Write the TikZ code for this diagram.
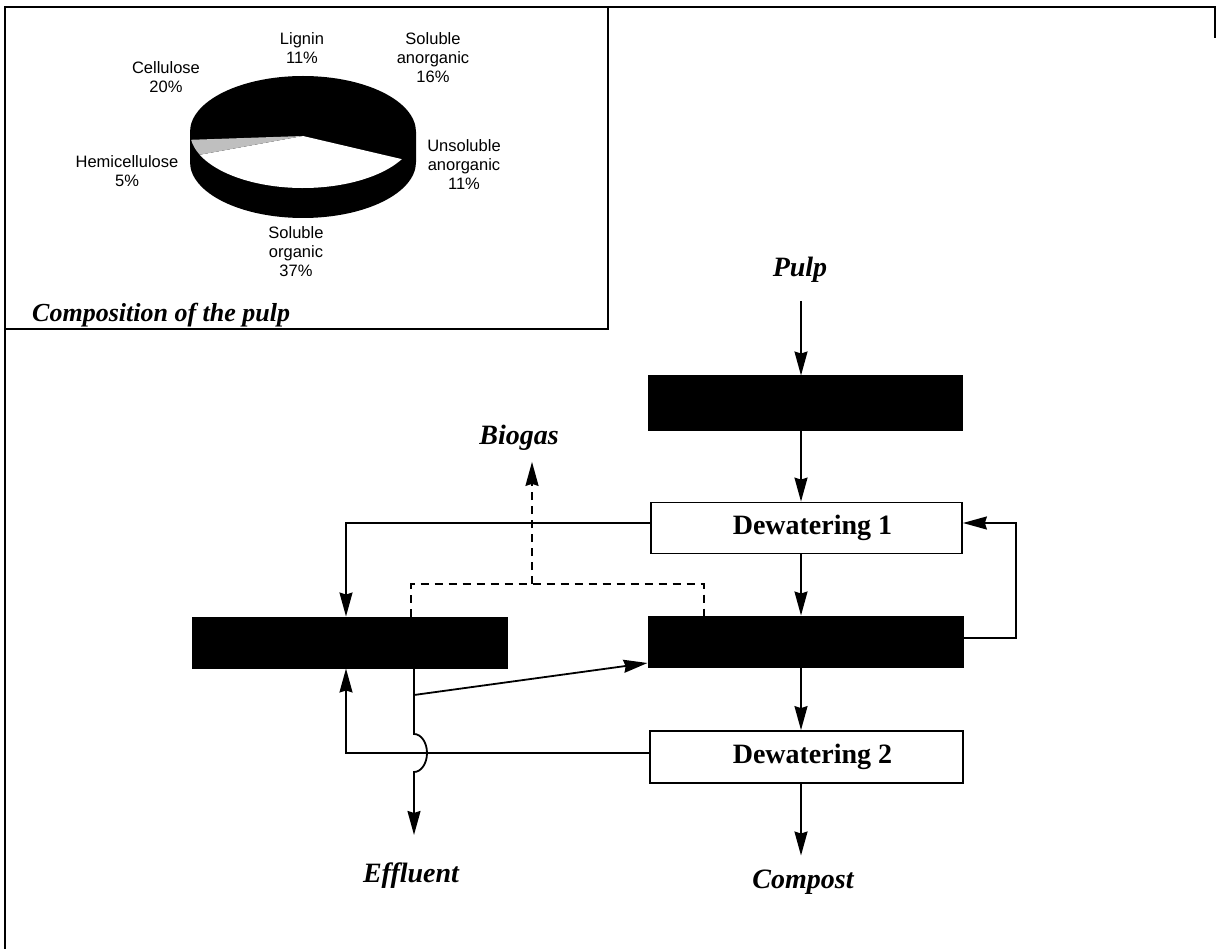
\documentclass[tikz,border=0pt]{standalone}
\usepackage{fontspec}
\setmainfont{Liberation Serif}
\newfontfamily\arialf{Liberation Sans}
\usetikzlibrary{arrows.meta}
\begin{document}
\begin{tikzpicture}[x=1pt,y=-1pt,
  frame/.style={line width=2pt},
  blk/.style={draw=black, fill=black, inner sep=0pt, line width=1pt},
  wbox/.style={draw=black, fill=white, line width=1.8pt, inner sep=0pt, font=\fontsize{28}{32}\selectfont\bfseries},
  lab/.style={font=\fontsize{28}{32}\selectfont\bfseries\itshape, inner sep=2pt},
  pl/.style={font=\arialf\fontsize{16.5}{19}\selectfont, align=center, inner sep=0pt},
  conn/.style={line width=1.8pt},
  arr/.style={conn, -{Stealth[length=24pt,width=13pt,inset=2pt]}},
  gas/.style={line width=1.8pt, dash pattern=on 8pt off 6pt}]
\useasboundingbox (0,0) rectangle (1218,949);
% frames
\draw[frame] (5,949) -- (5,7) -- (1215,7) -- (1215,38);
\draw[frame] (608,7) -- (608,329) -- (5,329);
% pie
\begin{scope}[shift={(303,132)}]
  \fill[black] (-113pt,0pt) -- (-113pt,-30pt) arc[start angle=180,end angle=360,x radius=113pt,y radius=56pt] -- (113pt,0pt) -- cycle;
  \fill[black] (0pt,0pt) ellipse[x radius=113pt, y radius=56pt];
  \fill[white] (0pt,-4pt) -- (-29:113pt and 56pt) arc[start angle=-29,end angle=-156,x radius=113pt,y radius=56pt] -- cycle;
  \fill[gray!50] (0pt,-4pt) -- (188:113pt and 56pt) arc[start angle=188,end angle=204,x radius=113pt,y radius=56pt] -- cycle;
\end{scope}
\node[pl] (lig) at (302,48) {Lignin\\11\%};
\node[pl] (sa) at (433,58) {Soluble\\anorganic\\16\%};
\node[pl] (cel) at (166,77) {Cellulose\\20\%};
\node[pl] (hem) at (127,171.5) {Hemicellulose\\5\%};
\node[pl] (ua) at (464,165) {Unsoluble\\anorganic\\11\%};
\node[pl] (so) at (296,251.5) {Soluble\\organic\\37\%};
\node[lab, font=\fontsize{26}{30}\selectfont\bfseries\itshape, anchor=west] (comp) at (30,315) {Composition of the pulp};
% flow sheet
\coordinate (cx) at (801,0);
\node[lab] (pulp) at (800,270) {Pulp};
\node[blk, minimum width=314pt, minimum height=54pt] (b1) at (805,403) {};
\node[wbox, minimum width=311pt, minimum height=51pt] (d1) at (806.5,528) {\hspace*{12pt}Dewatering 1};
\node[blk, minimum width=315pt, minimum height=51pt] (b2) at (805.5,641.5) {};
\node[wbox, minimum width=313pt, minimum height=52pt] (d2) at (806.5,757) {\hspace*{12pt}Dewatering 2};
\node[blk, minimum width=315pt, minimum height=51pt] (bl) at (349.5,642.5) {};
\node[lab] (compost) at (803,882) {Compost};
\node[lab] (eff) at (411,876) {Effluent};
\node[lab] (bio) at (519,438) {Biogas};
% main column
\draw[arr, shorten <=16pt] (pulp.south -| cx) -- (b1.north -| cx);
\draw[arr] (b1.south -| cx) -- (d1.north -| cx);
\draw[arr] (d1.south -| cx) -- (b2.north -| cx);
\draw[arr] (b2.south -| cx) -- (d2.north -| cx);
\draw[arr, shorten >=12pt] (d2.south -| cx) -- (compost.north -| cx);
% loops
\coordinate (yd1) at (0,523);
\coordinate (yd2) at (0,753);
\coordinate (yb2) at (0,638);
\coordinate (lx) at (346,0);
\coordinate (rx) at (1016,0);
\draw[arr] (d1.west |- yd1) -- (lx |- yd1) -- (lx |- bl.north);
\draw[arr] (b2.east |- yb2) -- (rx |- yb2) -- (rx |- yd1) -- (d1.east |- yd1);
\draw[arr] (d2.west |- yd2) -- (lx |- yd2) -- (lx |- bl.south);
% effluent with hop-over
\coordinate (ex) at (414,0);
\coordinate (hop) at (414,734);
\draw[arr, shorten >=26pt] (bl.south -| ex) -- (hop) arc[start angle=90,end angle=-90,x radius=13pt,y radius=19pt] -- (eff.north -| ex);
\coordinate (jn) at (414,695);
\coordinate (ydiag) at (0,663);
\draw[arr] (jn) -- (b2.west |- ydiag);
% biogas
\coordinate (gy) at (0,584);
\coordinate (gl) at (411,0);
\coordinate (gr) at (704,0);
\coordinate (gm) at (532,0);
\draw[gas] (bl.north -| gl) -- (gl |- gy) -- (gr |- gy) -- (b2.north -| gr);
\draw[gas, -{Stealth[length=24pt,width=13pt,inset=2pt]}, shorten >=9pt] (gm |- gy) -- (bio.south -| gm);
\end{tikzpicture}
\end{document}
